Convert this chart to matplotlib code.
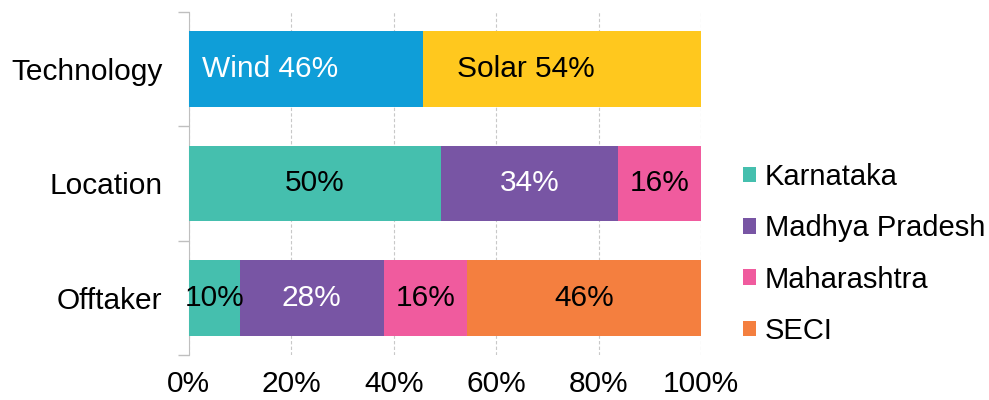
import numpy as np
import matplotlib
matplotlib.use('Agg')
import matplotlib.pyplot as plt
from matplotlib.patches import Patch

plt.rcParams['font.family'] = ['Liberation Sans', 'DejaVu Sans']

categories = ['Technology', 'Location', 'Offtaker']

# technology row
tech_names = ['Wind', 'Solar']
tech_vals = [45.7, 54.3]
tech_labels = ['Wind 46%', 'Solar 54%']

# location + offtaker rows share the legend series
series = ['Karnataka', 'Madhya Pradesh', 'Maharashtra', 'SECI']
loc_vals = [49.3, 34.4, 16.3, 0]
loc_labels = ['50%', '34%', '16%', '']
off_vals = [10.0, 28.0, 16.3, 45.7]
off_labels = ['10%', '28%', '16%', '46%']

tech_colors = ['#0f9ed8', '#ffc81e']
tech_text = ['white', 'black']
colors = ['#45bfae', '#7855a4', '#f05b9e', '#f47f3f']
text_colors = ['black', 'white', 'black', 'black']

fs = 21.5
fig = plt.figure(figsize=(9.89, 4.0), dpi=100)
ax = fig.add_axes([0.191, 0.1125, 0.518, 0.8575])

h = 0.66
y = np.arange(len(categories))

def stack(row, vals, labs, cols, tcols, shift=0):
    left = 0
    for v, l, c, tc in zip(vals, labs, cols, tcols):
        if v <= 0:
            continue
        ax.barh(row, v, left=left, height=h, color=c, edgecolor='none', zorder=3)
        ax.text(left + v / 2 + shift, row, l, ha='center', va='center', color=tc, fontsize=fs, zorder=4)
        left += v

stack(0, tech_vals, tech_labels, tech_colors, tech_text, shift=-7)
stack(1, loc_vals, loc_labels, colors, text_colors)
stack(2, off_vals, off_labels, colors, text_colors)

ax.set_xlim(0, 100)
ax.set_ylim(2.5, -0.5)
ax.set_xticks([0, 20, 40, 60, 80, 100])
ax.set_xticklabels(['0%', '20%', '40%', '60%', '80%', '100%'], fontsize=fs)
ax.set_yticks(y)
ax.set_yticklabels(categories, fontsize=fs)
ax.set_yticks([-0.5, 0.5, 1.5, 2.5], minor=True)
ax.tick_params(axis='y', which='major', length=0, pad=19)
ax.tick_params(axis='y', which='minor', length=8, color='#bfbfbf', width=1)
ax.tick_params(axis='x', length=0, pad=11)

for s in ['top', 'right', 'bottom']:
    ax.spines[s].set_visible(False)
ax.spines['left'].set_color('#bfbfbf')
ax.xaxis.grid(True, linestyle=(0, (3, 2)), color='#c8c8c8', linewidth=0.8, zorder=0)
ax.set_axisbelow(True)

handles = [Patch(facecolor=c, edgecolor='none') for c in colors]
fig.legend(handles, series, loc='center left', bbox_to_anchor=(0.751, 0.365),
           frameon=False, fontsize=21, handlelength=0.45, handleheight=0.45,
           handletextpad=0.3, labelspacing=0.8, borderaxespad=0, borderpad=0)

plt.savefig('out.png', dpi=100)
